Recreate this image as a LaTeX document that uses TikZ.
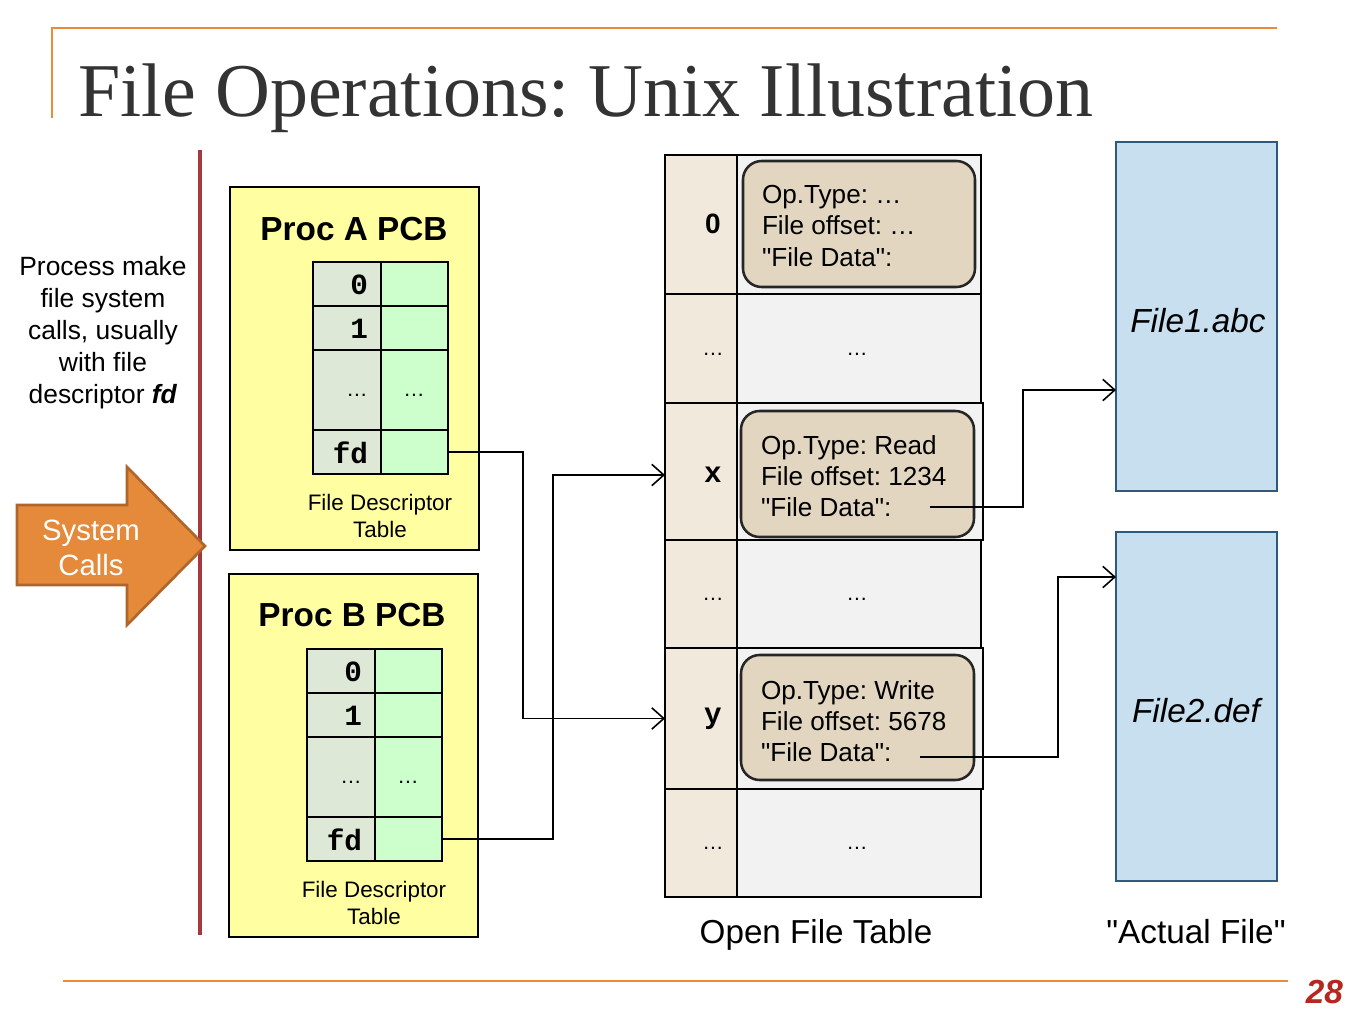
\documentclass[tikz,border=0pt]{standalone}
\usepackage{fontspec}
\setmainfont{Liberation Serif}
\newfontfamily\arial{Liberation Sans}
\newfontfamily\cour{Liberation Mono}
\usetikzlibrary{arrows.meta,calc}
\frenchspacing
\definecolor{orangeline}{HTML}{E98B3A}
\definecolor{redline}{HTML}{A5373F}
\definecolor{titlegray}{HTML}{333333}
\definecolor{pcbyellow}{HTML}{FFFFA2}
\definecolor{fdleft}{HTML}{DDE8D6}
\definecolor{fdright}{HTML}{CCFFCC}
\definecolor{oftleft}{HTML}{F2E9DD}
\definecolor{oftright}{HTML}{F2F2F2}
\definecolor{entryfill}{HTML}{E2D6C0}
\definecolor{filefill}{HTML}{C8DFF0}
\definecolor{fileborder}{HTML}{2F5A80}
\definecolor{arrowfill}{HTML}{E48A3A}
\definecolor{arrowborder}{HTML}{B0662B}
\definecolor{pagenum}{HTML}{B5281E}
\newcommand\fsz[2]{\fontsize{#1}{#2}\selectfont}
\tikzset{
  pxbox/.style 2 args={rectangle, minimum width={#1*0.75pt}, minimum height={#2*0.75pt}, inner sep=0pt, outer sep=0pt},
  pcb/.style={draw=black, line width=1.1pt, fill=pcbyellow},
  cell/.style={draw=black, line width=2.2pt},
  entry/.style={draw=black!85, line width=1.9pt, fill=entryfill, rounded corners=14pt},
  filebox/.style={draw=fileborder, line width=2.2pt, fill=filefill},
  conn/.style={draw=black, line width=1.2pt},
  barb/.style={-{Straight Barb[length=9pt,width=16pt,line width=1.2pt]}},
  txt/.style={inner sep=0pt, outer sep=0pt},
  cnum/.style={txt, anchor=east, font=\cour\bfseries\fsz{22}{24}},
  dots/.style={txt, font=\arial\fsz{16}{18}},
  entrytxt/.style={txt, anchor=west, align=left, font=\arial\fsz{19.6}{23.4}},
}
\newcommand\fdtable[1]{%
  \node[pxbox={68}{44}, cell, fill=fdleft] (#1l0) at (347,284) {};
  \node[pxbox={67}{44}, cell, fill=fdright] (#1r0) at (414.5,284) {};
  \node[pxbox={68}{44}, cell, fill=fdleft] (#1l1) at (347,328) {};
  \node[pxbox={67}{44}, cell, fill=fdright] (#1r1) at (414.5,328) {};
  \node[pxbox={68}{80}, cell, fill=fdleft] (#1l2) at (347,390) {};
  \node[pxbox={67}{80}, cell, fill=fdright] (#1r2) at (414.5,390) {};
  \node[pxbox={68}{44}, cell, fill=fdleft] (#1l3) at (347,452) {};
  \node[pxbox={67}{44}, cell, fill=fdright] (#1fd) at (414.5,452) {};
  \node[cnum] (#1t0) at (368,285) {0};
  \node[cnum] (#1t1) at (368,329) {1};
  \node[dots] (#1t2) at (357,395) {\dots};
  \node[dots] (#1t3) at (414,395) {\dots};
  \node[cnum] (#1t4) at (368,453) {fd};
  \node[txt, align=center, font=\arial\fsz{16.8}{20.2}] (#1lab) at (380,516) {File Descriptor\\Table};
}
\begin{document}
\begin{tikzpicture}[x=0.75pt,y=-0.75pt]
\useasboundingbox (0,0) rectangle (1354,1016);
% frame lines
\draw[orangeline, line width=2pt] (52,118) -- (52,28) -- (1277,28);
\draw[orangeline, line width=2pt] (63,981) -- (1288,981);
\node[txt, anchor=base west, font=\fsz{57}{60}, text=titlegray] (title) at (78,117) {File Operations: Unix Illustration};
\node[txt, anchor=base east, font=\arial\bfseries\itshape\fsz{25}{28}, text=pagenum] (page) at (1343,1003) {28};
% vertical separator
\draw[redline, line width=2.5pt] (200,150) -- (200,935);
% left text
\node[txt, align=center, font=\arial\fsz{19.8}{24}] (ptext) at (103,333) {Process make\\file system\\calls, usually\\with file\\descriptor \textbf{\textit{fd}}};
% system calls arrow
\draw[fill=arrowfill, draw=arrowborder, line width=2pt, line join=miter] (17,505) -- (127,505) -- (127,467) -- (205,546) -- (127,625) -- (127,585) -- (17,585) -- cycle;
\node[txt, align=center, text=white, font=\arial\fsz{22}{26}] (syscalls) at (91,548) {System\\Calls};
% Proc A PCB
\node[pxbox={249}{363}, pcb] (pcba) at (354.5,368.5) {};
\node[txt, font=\arial\bfseries\fsz{25}{28}] (pcbat) at (354,229) {Proc A PCB};
\fdtable{a}
% Proc B PCB
\node[pxbox={249}{363}, pcb] (pcbb) at (353.5,755.5) {};
\node[txt, font=\arial\bfseries\fsz{25}{28}] (pcbbt) at (352,615) {Proc B PCB};
\begin{scope}[shift={(-6,387)}]
\fdtable{b}
\end{scope}
% Open file table
\node[pxbox={72}{139}, cell, fill=oftleft] (ol0) at (701,224.5) {};
\node[pxbox={244}{139}, cell, fill=oftright] (or0) at (859,224.5) {};
\node[pxbox={72}{109}, cell, fill=oftleft] (ol1) at (701,348.5) {};
\node[pxbox={244}{109}, cell, fill=oftright] (or1) at (859,348.5) {};
\node[pxbox={72}{137}, cell, fill=oftleft] (ol2) at (701,471.5) {};
\node[pxbox={246}{137}, cell, fill=oftright] (or2) at (860,471.5) {};
\node[pxbox={72}{108}, cell, fill=oftleft] (ol3) at (701,594) {};
\node[pxbox={244}{108}, cell, fill=oftright] (or3) at (859,594) {};
\node[pxbox={72}{141}, cell, fill=oftleft] (ol4) at (701,718.5) {};
\node[pxbox={246}{141}, cell, fill=oftright] (or4) at (860,718.5) {};
\node[pxbox={72}{108}, cell, fill=oftleft] (ol5) at (701,843) {};
\node[pxbox={244}{108}, cell, fill=oftright] (or5) at (859,843) {};
\node[txt, font=\arial\bfseries\fsz{21}{24}] (oi0) at (713,224) {0};
\node[dots] (oi1) at (713,354) {\dots};
\node[txt, font=\cour\bfseries\fsz{22}{24}] (oi2) at (713,475) {x};
\node[dots] (oi3) at (713,599) {\dots};
\node[txt, font=\cour\bfseries\fsz{22}{24}] (oi4) at (713,719) {y};
\node[dots] (oi5) at (713,848) {\dots};
\node[dots] (od1) at (857,354) {\dots};
\node[dots] (od3) at (857,599) {\dots};
\node[dots] (od5) at (857,848) {\dots};
% entries
\node[pxbox={232}{126}, entry] (e0) at (859,224) {};
\node[entrytxt] (e0t) at (762,226) {Op.Type: \dots\\File offset: \dots\\"File Data":};
\node[pxbox={233}{126}, entry] (ex) at (857.5,474) {};
\node[entrytxt] (ext) at (761,476) {Op.Type: Read\\File offset: 1234\\"File Data":};
\node[pxbox={233}{125}, entry] (ey) at (857.5,717.5) {};
\node[entrytxt] (eyt) at (761,721) {Op.Type: Write\\File offset: 5678\\"File Data":};
\node[txt, font=\arial\fsz{24.9}{28}] (oftlab) at (816,935) {Open File Table};
% files
\node[pxbox={161}{349}, filebox] (file1) at (1196.5,316.5) {};
\node[txt, font=\arial\itshape\fsz{25}{28}] (file1t) at (1198,321) {File1.abc};
\node[pxbox={161}{349}, filebox] (file2) at (1196.5,706.5) {};
\node[txt, font=\arial\itshape\fsz{25}{28}] (file2t) at (1196,711) {File2.def};
\node[txt, font=\arial\fsz{25}{28}] (actual) at (1196,932) {"Actual File"};
% connectors
\coordinate (xdata) at (930,507);
\coordinate (ydata) at (920,757);
\coordinate (f1in) at (1116,390);
\coordinate (f2in) at (1116,577);
\draw[conn, barb] (afd.east) -| (523,600) |- (ol4.west);
\draw[conn, barb] (bfd.east) -| (553,650) |- (ol2.west |- oi2);
\draw[conn, barb] (xdata) -| (1023,450) |- (f1in);
\draw[conn, barb] (ydata) -| (1058,650) |- (f2in);
\end{tikzpicture}
\end{document}
